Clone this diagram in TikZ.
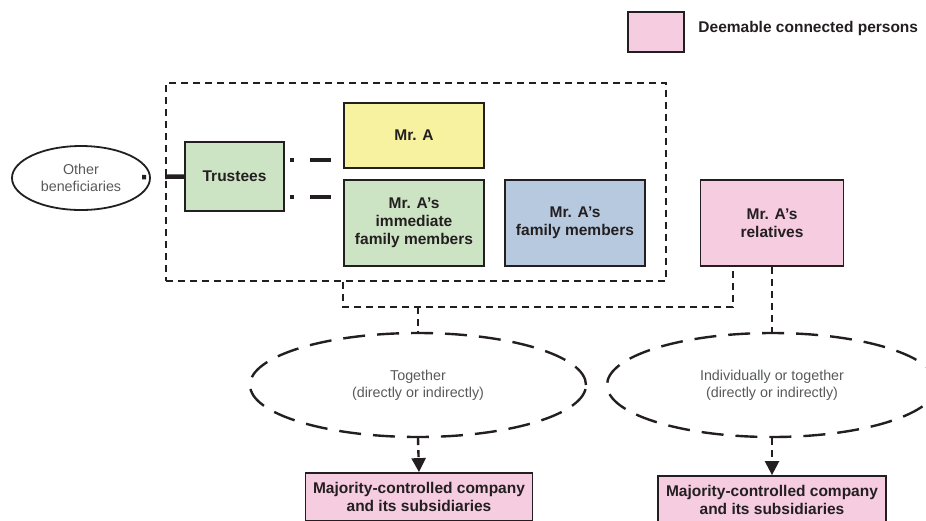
\documentclass[tikz,border=0pt]{standalone}
\usepackage{fontspec}
\setmainfont{Liberation Sans}
\usetikzlibrary{shapes.geometric, positioning, arrows.meta}
\definecolor{LineDark}{HTML}{231F20}
\definecolor{SoftGray}{HTML}{58595B}
\definecolor{TrustGreen}{HTML}{CDE4C4}
\definecolor{MrAYellow}{HTML}{F7F2A0}
\definecolor{FamilyBlue}{HTML}{B7C9DF}
\definecolor{DeemPink}{HTML}{F6CCE0}

\begin{document}
\begin{tikzpicture}[x=1pt, y=-1pt,
    every node/.style={font=\fontsize{15.5}{18}\selectfont\bfseries, text=LineDark},
    personbox/.style={draw=LineDark, line width=1.8pt, align=center, inner sep=0pt},
    groupbox/.style={draw=LineDark, line width=2.4pt, dash pattern=on 7pt off 5pt, inner sep=0pt},
    wayellipse/.style={ellipse, draw=LineDark, line width=2.4pt, dash pattern=on 22pt off 12pt,
        inner sep=0pt, align=center, text=SoftGray, font=\fontsize{14.3}{17}\selectfont},
    dashlink/.style={draw=LineDark, line width=2.4pt, dash pattern=on 7pt off 5pt},
    trustlink/.style={draw=LineDark, line width=4.5pt}
]
    \useasboundingbox (0,0) rectangle (926,520);
    \clip (0,0) rectangle (926,520);

    % legend
    \node[personbox, fill=DeemPink, minimum width=56pt, minimum height=40pt] (legend) at (656,32) {};
    \node[right=10pt of legend, yshift=4pt] (legendtext) {Deemable connected persons};

    % trust group
    \node[groupbox, minimum width=500pt, minimum height=198pt] (group) at (416,182) {};
    \node[ellipse, draw=LineDark, line width=1.8pt, inner sep=0pt, minimum width=138pt, minimum height=64pt,
        align=center, text=SoftGray, font=\fontsize{14.3}{17}\selectfont] (others) at (81,178) {Other\\beneficiaries};
    \node[personbox, fill=TrustGreen, minimum width=99pt, minimum height=69pt] (trustees) at (234.5,176.5) {Trustees};
    \node[personbox, fill=MrAYellow, minimum width=140pt, minimum height=65pt] (mra) at (414,135.5) {Mr. A};
    \node[personbox, fill=TrustGreen, minimum width=140pt, minimum height=86pt] (immediate) at (414,223) {Mr. A’s\\immediate\\family members};
    \node[personbox, fill=FamilyBlue, minimum width=140pt, minimum height=86pt] (family) at (575,223) {Mr. A’s\\family members};
    \node[personbox, fill=DeemPink, minimum width=143pt, minimum height=86pt] (relatives) at (772,223) {Mr. A’s\\relatives};

    % ways of control
    \node[wayellipse, minimum width=336pt, minimum height=104pt] (together) at (418,385) {Together\\(directly or indirectly)};
    \node[wayellipse, minimum width=330pt, minimum height=104pt] (either) at (772,385) {Individually or together\\(directly or indirectly)};

    \node[personbox, fill=DeemPink, minimum width=227pt, minimum height=48pt] (companyl) at (419,497) {Majority-controlled company\\and its subsidiaries};
    \node[personbox, fill=DeemPink, minimum width=228pt, minimum height=48pt] (companyr) at (772,500) {Majority-controlled company\\and its subsidiaries};

    % trustee links
    \draw[trustlink, dash pattern=on 19pt off 19pt on 4pt off 200pt] (trustees.west) -- (others.center);
    \draw[trustlink, dash pattern=on 0pt off 5pt on 4pt off 16pt on 21pt off 30pt]
        ([yshift=16.5pt]trustees.east) -- ([yshift=16.5pt]trustees.east -| mra.west);
    \draw[trustlink, dash pattern=on 0pt off 5pt on 4pt off 16pt on 21pt off 30pt]
        ([yshift=-20.5pt]trustees.east) -- ([yshift=-20.5pt]trustees.east -| immediate.west);

    % control links
    \draw[dashlink] (group.south -| immediate.west) -- ++(0,25) coordinate (bus) -| ([xshift=-39pt]relatives.south);
    \draw[dashlink] (bus -| together.north) -- (together.north);
    \draw[dashlink] (relatives.south) -- (either.north);
    \draw[dashlink, -{Triangle[width=14pt, length=14pt]}] (together.south) -- (companyl.north);
    \draw[dashlink, -{Triangle[width=14pt, length=14pt]}] (either.south) -- (companyr.north);
\end{tikzpicture}
\end{document}
